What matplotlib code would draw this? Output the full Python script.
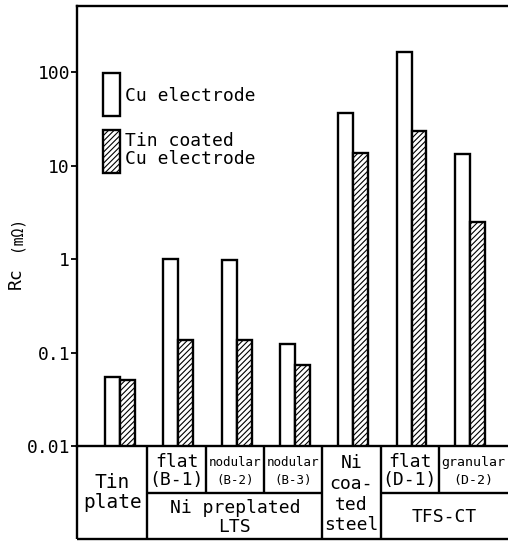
import numpy as np
import matplotlib
matplotlib.use("Agg")
import matplotlib.pyplot as plt
from matplotlib.patches import Rectangle
from matplotlib.ticker import FixedLocator, FixedFormatter, NullLocator

# ---- data ----
categories = ["Tin plate", "flat (B-1)", "nodular (B-2)", "nodular (B-3)",
              "Ni coated steel", "flat (D-1)", "granular (D-2)"]
cu_electrode = [0.055, 1.0, 0.98, 0.123, 36.5, 165, 13.3]
tin_coated = [0.051, 0.136, 0.135, 0.074, 13.6, 23.4, 2.5]
ytick_values = [0.01, 0.1, 1, 10, 100]
ytick_labels = ["0.01", "0.1", "1", "10", "100"]

FONT = "DejaVu Sans Mono"
plt.rcParams["font.family"] = [FONT]
plt.rcParams["hatch.linewidth"] = 0.8

W, H = 508, 542
fig = plt.figure(figsize=(W / 100, H / 100), dpi=100)
ax_left, ax_top, ax_bottom = 77, 6, 446
ax = fig.add_axes([ax_left / W, (H - ax_bottom) / H, 1 - ax_left / W,
                   (ax_bottom - ax_top) / H])

x = np.arange(len(categories))
bw = 0.257
ax.bar(x, cu_electrode, width=-bw, align="edge", facecolor="white",
       edgecolor="black", linewidth=1.7)
ax.bar(x, tin_coated, width=bw, align="edge", facecolor="white",
       edgecolor="black", linewidth=1.7, hatch="//////")

ax.set_yscale("log")
ax.set_ylim(0.01, 510)
ax.set_xlim(-0.7376, 6.655)
ax.yaxis.set_major_locator(FixedLocator(ytick_values))
ax.yaxis.set_major_formatter(FixedFormatter(ytick_labels))
ax.yaxis.set_minor_locator(NullLocator())
ax.set_xticks([])
ax.tick_params(axis="y", direction="out", length=4.5, width=1.3,
               labelsize=13, pad=0.5)
for s in ["left", "top", "bottom"]:
    ax.spines[s].set_linewidth(1.7)
ax.spines["right"].set_visible(False)

# ---- legend (drawn manually) ----
lx, lw, lh = 0.0603, 0.0394, 0.0977
ax.add_patch(Rectangle((lx, 0.75), lw, lh, transform=ax.transAxes,
                       facecolor="white", edgecolor="black", linewidth=1.7))
ax.add_patch(Rectangle((lx, 0.6205), lw, lh, transform=ax.transAxes,
                       facecolor="white", edgecolor="black", linewidth=1.7,
                       hatch="//////"))
ax.text(0.111, 0.795, "Cu electrode", transform=ax.transAxes,
        fontsize=13, va="center", ha="left")
ax.text(0.111, 0.672, "Tin coated\nCu electrode", transform=ax.transAxes,
        fontsize=13, va="center", ha="left", linespacing=1.0)

# ---- table below axis ----
tr = ax.get_xaxis_transform()
y_mid = -47 / 440
y_bot = -93 / 440
xmin, xmax = ax.get_xlim()
bounds = x[:-1] + 0.47
lk = dict(color="black", linewidth=1.7, clip_on=False, transform=tr,
          solid_capstyle="butt")
ax.plot([xmin, xmin], [0, y_bot], **lk)
ax.plot([xmin, xmax], [y_bot, y_bot], **lk)
ax.plot([bounds[0], bounds[3]], [y_mid, y_mid], **lk)
ax.plot([bounds[4], xmax], [y_mid, y_mid], **lk)
for i in [0, 3, 4]:
    ax.plot([bounds[i], bounds[i]], [0, y_bot], **lk)
for i in [1, 2, 5]:
    ax.plot([bounds[i], bounds[i]], [0, y_mid], **lk)

edges = [xmin] + list(bounds) + [xmax]
cent = [(edges[i] + edges[i + 1]) / 2 for i in range(len(categories))]
top_c = y_mid / 2 - 0.004
bot_c = (y_mid + y_bot) / 2 - 0.003
full_c = y_bot / 2
tk = dict(transform=tr, ha="center", va="center", clip_on=False)
ax.text(cent[0], full_c, "Tin\nplate", fontsize=14, linespacing=1.1, **tk)
ax.text(cent[1], top_c, "flat\n(B-1)", fontsize=13, linespacing=1.0, **tk)
ax.text(cent[2], top_c, "nodular\n(B-2)", fontsize=9, linespacing=1.5, **tk)
ax.text(cent[3], top_c, "nodular\n(B-3)", fontsize=9, linespacing=1.5, **tk)
ax.text((edges[1] + edges[4]) / 2, bot_c, "Ni preplated\nLTS", fontsize=13,
        linespacing=1.1, **tk)
ax.text(cent[4], full_c - 0.004, "Ni\ncoa-\nted\nsteel", fontsize=13,
        linespacing=1.2, **tk)
ax.text(cent[5], top_c, "flat\n(D-1)", fontsize=13, linespacing=1.0, **tk)
ax.text(cent[6], top_c, "granular\n(D-2)", fontsize=9.5, linespacing=1.5, **tk)
ax.text((edges[5] + edges[7]) / 2, bot_c, "TFS-CT", fontsize=13, **tk)

# ---- y label ----
fig.text(16 / W, 1 - 278 / H, "Rc", rotation=90, fontsize=13,
         ha="center", va="center")
fig.text(16 / W, 1 - 234 / H, "(mΩ)", rotation=90, fontsize=10.5,
         ha="center", va="center")

fig.savefig("out.png", dpi=100)
